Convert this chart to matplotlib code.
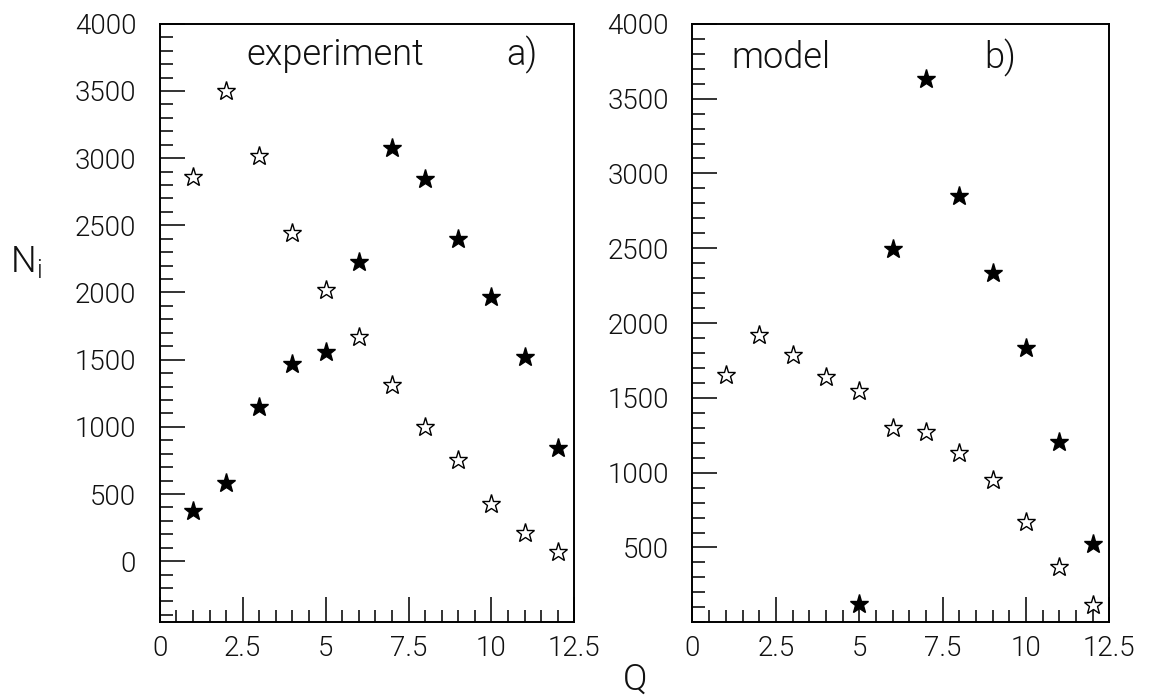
import numpy as np
import matplotlib
matplotlib.use("Agg")
import matplotlib.pyplot as plt
from matplotlib.ticker import MultipleLocator

plt.rcParams['font.family'] = ['Roboto', 'DejaVu Sans']
plt.rcParams['font.weight'] = 300

q = np.arange(1, 13)

# panel a) experiment
exp_open = [2860, 3500, 3016, 2443, 2018, 1668, 1311, 998, 752, 425, 209, 67]
exp_full = [372, 581, 1147, 1467, 1557, 2227, 3076, 2845, 2398, 1966, 1519, 842]

# panel b) model
mod_q_full = [5, 6, 7, 8, 9, 10, 11, 12]
mod_open = [1653, 1921, 1787, 1640, 1546, 1298, 1272, 1131, 950, 669, 368, 114]
mod_full = [120, 2497, 3634, 2851, 2336, 1834, 1205, 522]

txt = '#111111'

fig = plt.figure(figsize=(11.58, 7), dpi=100)
ax1 = fig.add_axes([0.138, 0.111, 0.358, 0.855])
ax2 = fig.add_axes([0.598, 0.111, 0.360, 0.855])

def style(ax, ylo, yticks):
    ax.set_xlim(0, 12.5)
    ax.set_ylim(ylo, 4000)
    ax.set_xticks([0, 2.5, 5, 7.5, 10, 12.5])
    ax.set_xticklabels(['0', '2.5', '5', '7.5', '10', '12.5'])
    ax.xaxis.set_minor_locator(MultipleLocator(0.5))
    ax.set_yticks(yticks)
    ax.yaxis.set_minor_locator(MultipleLocator(100))
    ax.tick_params(which='both', direction='in', top=False, right=False,
                   labelsize=20, width=1.2, colors=txt)
    ax.tick_params(axis='x', pad=9)
    ax.tick_params(axis='y', pad=17)
    ax.tick_params(which='major', length=18)
    ax.tick_params(which='minor', length=9)
    for s in ax.spines.values():
        s.set_linewidth(1.4)

style(ax1, -455, np.arange(0, 4001, 500))
style(ax2, 0, np.arange(500, 4001, 500))

ax1.plot(q, exp_open, ls='none', marker='*', ms=14, mfc='white', mec='black', mew=1.0)
ax1.plot(q, exp_full, ls='none', marker='*', ms=14, mfc='black', mec='black', mew=1.0)
ax2.plot(q, mod_open, ls='none', marker='*', ms=14, mfc='white', mec='black', mew=1.0)
ax2.plot(mod_q_full, mod_full, ls='none', marker='*', ms=14, mfc='black', mec='black', mew=1.0)

ax1.text(0.21, 0.931, 'experiment', transform=ax1.transAxes, fontsize=26,
         va='baseline', ha='left', color=txt)
ax1.text(0.836, 0.931, 'a)', transform=ax1.transAxes, fontsize=26,
         va='baseline', ha='left', color=txt)
ax2.text(0.094, 0.926, 'model', transform=ax2.transAxes, fontsize=26,
         va='baseline', ha='left', color=txt)
ax2.text(0.70, 0.926, 'b)', transform=ax2.transAxes, fontsize=26,
         va='baseline', ha='left', color=txt)

fig.text(0.009, 0.625, r'N$_\mathregular{i}$', fontsize=26, color=txt, va='center')
fig.text(0.548, 0.015, 'Q', fontsize=26, color=txt, ha='center')

fig.savefig('out.png', dpi=100)
